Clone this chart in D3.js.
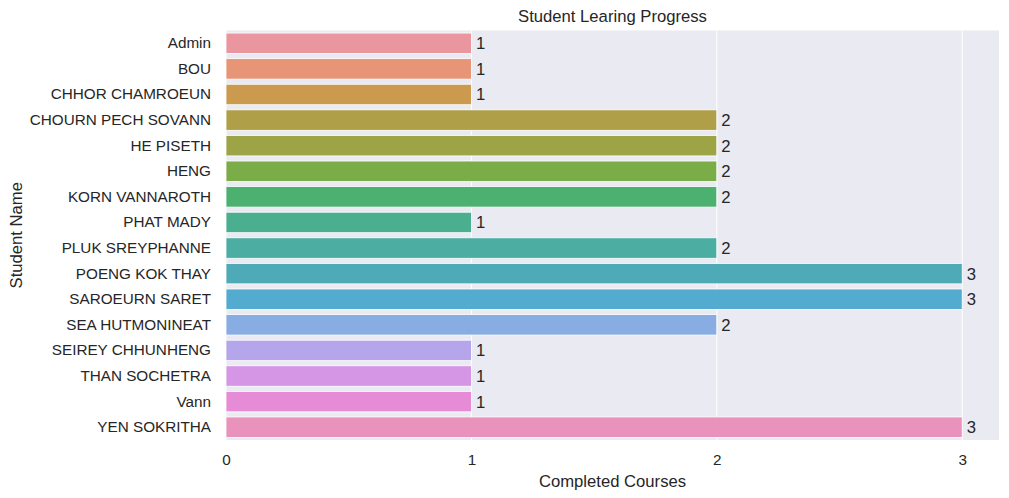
<!DOCTYPE html>
<html>
<head>
<meta charset="utf-8">
<script src="https://cdn.jsdelivr.net/npm/d3@7"></script>
<style>
  html, body { margin: 0; padding: 0; background: #ffffff; }
  svg { display: block; }
  text { font-family: "Liberation Sans", Arial, sans-serif; fill: #262626; }
</style>
</head>
<body>
<svg id="chart" width="1009" height="498"></svg>
<script>
const students = ["Admin", "BOU", "CHHOR CHAMROEUN", "CHOURN PECH SOVANN", "HE PISETH", "HENG",
  "KORN VANNAROTH", "PHAT MADY", "PLUK SREYPHANNE", "POENG KOK THAY", "SAROEURN SARET",
  "SEA HUTMONINEAT", "SEIREY CHHUNHENG", "THAN SOCHETRA", "Vann", "YEN SOKRITHA"];
const completed = [1, 1, 1, 2, 2, 2, 2, 1, 2, 3, 3, 2, 1, 1, 1, 3];
const barColors = ["#e9969f", "#e69576", "#cc9a4e", "#ae9f48", "#9ca446", "#7aac48",
  "#4cb070", "#4aaf8e", "#4cada3", "#4eaab6", "#53abcf", "#87ade3",
  "#b5a5ea", "#d596e5", "#e68bd6", "#e993bc"];
const xTicks = [0, 1, 2, 3];
const titleText = "Student Learing Progress";
const xLabel = "Completed Courses";
const yLabel = "Student Name";

const svg = d3.select("#chart");
const m = { left: 226, right: 999, top: 30.5, bottom: 440 };

const x = d3.scaleLinear().domain([0, 3.15]).range([m.left, m.right]);
const y = d3.scaleBand().domain(students).range([m.top, m.bottom]).paddingInner(0.2).paddingOuter(0.1);

// background
svg.append("rect").attr("x", m.left).attr("y", m.top)
  .attr("width", m.right - m.left).attr("height", m.bottom - m.top).attr("fill", "#eaeaf2");

// grid
svg.append("g").selectAll("line").data(xTicks).join("line")
  .attr("x1", d => x(d)).attr("x2", d => x(d))
  .attr("y1", m.top).attr("y2", m.bottom)
  .attr("stroke", "#ffffff").attr("stroke-width", 1);

// bars
svg.append("g").selectAll("rect").data(students).join("rect")
  .attr("x", x(0))
  .attr("y", d => y(d))
  .attr("width", (d, i) => x(completed[i]) - x(0))
  .attr("height", y.bandwidth())
  .attr("fill", (d, i) => barColors[i])
  .attr("stroke", "#ffffff").attr("stroke-width", 0.8);

// value labels
svg.append("g").selectAll("text").data(students).join("text")
  .attr("x", (d, i) => x(completed[i]) + 4.5)
  .attr("y", d => y(d) + y.bandwidth() / 2)
  .attr("dy", "0.36em")
  .style("font-size", "16.67px")
  .text((d, i) => completed[i]);

// x axis
const xAxis = d3.axisBottom(x).tickValues(xTicks).tickFormat(d3.format("d")).tickSize(0).tickPadding(14);
const gx = svg.append("g").attr("transform", `translate(0,${m.bottom})`).call(xAxis);
gx.select(".domain").remove();
gx.selectAll("text").style("font-size", "15.28px").attr("fill", "#262626");

// y axis
const yAxis = d3.axisLeft(y).tickSize(0).tickPadding(15);
const gy = svg.append("g").attr("transform", `translate(${m.left},0)`).call(yAxis);
gy.select(".domain").remove();
gy.selectAll("text").style("font-size", "15.28px").attr("fill", "#262626");

// title and labels
svg.append("text").attr("x", (m.left + m.right) / 2).attr("y", 22)
  .attr("text-anchor", "middle").style("font-size", "16.67px").text(titleText);
svg.append("text").attr("x", (m.left + m.right) / 2).attr("y", 487)
  .attr("text-anchor", "middle").style("font-size", "16.67px").text(xLabel);
svg.append("text").attr("transform", `translate(22,${(m.top + m.bottom) / 2}) rotate(-90)`)
  .attr("text-anchor", "middle").style("font-size", "16.67px").text(yLabel);
</script>
</body>
</html>
